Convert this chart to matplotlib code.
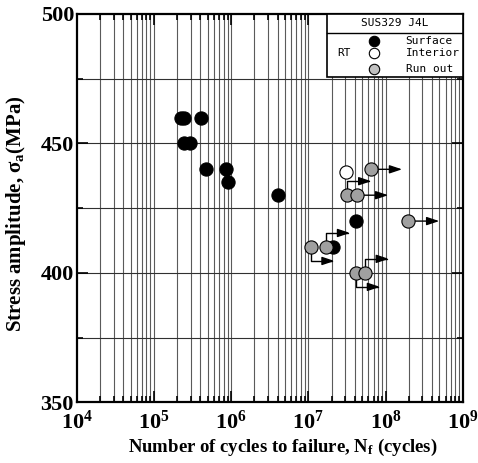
import numpy as np
import matplotlib
matplotlib.use("Agg")
from matplotlib import pyplot as plt
from matplotlib.transforms import offset_copy
from matplotlib.patches import Rectangle

plt.rcParams['font.family'] = 'Liberation Serif'
plt.rcParams['font.weight'] = 'bold'
plt.rcParams['axes.labelweight'] = 'bold'
plt.rcParams['mathtext.fontset'] = 'custom'
plt.rcParams['mathtext.rm'] = 'Liberation Serif:bold'
plt.rcParams['mathtext.bf'] = 'Liberation Serif:bold'
plt.rcParams['mathtext.it'] = 'Liberation Serif:bold'

# Surface failure (black)
surf_N = [2.27e5, 2.47e5, 4.04e5, 2.42e5, 2.95e5, 4.73e5, 8.6e5, 9.2e5, 4.08e6, 4.15e7, 2.1e7]
surf_S = [460, 460, 460, 450, 450, 440, 440, 435, 430, 420, 410]

# Interior failure (white)
int_N = [3.08e7]
int_S = [439]

# Run out (gray) and how the arrow is drawn: r = right, u = up then right, d = down then right
run_N = [6.5e7, 3.2e7, 4.3e7, 1.97e8, 1.07e7, 1.7e7, 4.15e7, 5.4e7]
run_S = [440, 430, 430, 420, 410, 410, 400, 400]
run_arrow = ['r', 'u', 'r', 'r', 'd', 'u', 'd', 'u']

fig = plt.figure(figsize=(4.78, 4.63), dpi=100)
ax = fig.add_axes([0.1605, 0.1311, 0.8075, 0.8387])

ax.set_xscale('log')
ax.set_xlim(1e4, 1e9)
ax.set_ylim(350, 500)

# grid on every decade and sub-decade, every 25 MPa
for d in range(4, 9):
    for m in range(1, 10):
        if d == 4 and m == 1:
            continue
        ax.axvline(m * 10.0**d, color='#5a5a5a', lw=0.8, zorder=1)
for s in np.arange(375, 500, 25):
    ax.axhline(s, color='#303030', lw=0.8, zorder=1)

ax.set_xticks([1e4, 1e5, 1e6, 1e7, 1e8, 1e9])
ax.set_xticklabels([r'$10^{%d}$' % k for k in range(4, 10)])
ax.set_yticks([350, 400, 450, 500])
ax.set_yticks([375, 425, 475], minor=True)
ax.tick_params(which='both', direction='in', top=True, right=True, width=1.2, labelsize=16, pad=2)
ax.tick_params(which='major', length=8)
ax.tick_params(which='minor', length=4)
ax.tick_params(axis='x', pad=6)
for sp in ax.spines.values():
    sp.set_linewidth(1.6)

ms = 9.5
ax.plot(surf_N, surf_S, 'o', ms=ms, mfc='black', mec='black', mew=0.8, ls='none', zorder=5)
ax.plot(int_N, int_S, 'o', ms=ms, mfc='white', mec='black', mew=0.8, ls='none', zorder=5)
ax.plot(run_N, run_S, 'o', ms=ms, mfc='#a0a0a0', mec='black', mew=0.8, ls='none', zorder=6)

# run-out arrows
for n, s, a in zip(run_N, run_S, run_arrow):
    if a == 'r':
        end = offset_copy(ax.transData, fig=fig, x=31, y=0, units='dots')
        conn = 'arc3'
    elif a == 'u':
        end = offset_copy(ax.transData, fig=fig, x=24, y=14, units='dots')
        conn = 'angle,angleA=90,angleB=0,rad=0'
    else:
        end = offset_copy(ax.transData, fig=fig, x=24, y=-14, units='dots')
        conn = 'angle,angleA=-90,angleB=0,rad=0'
    ax.annotate('', xy=(n, s), xycoords=end, xytext=(n, s), textcoords='data',
                arrowprops=dict(arrowstyle='-|>,head_length=0.75,head_width=0.25',
                                connectionstyle=conn, color='black', lw=1.0,
                                shrinkA=0, shrinkB=0),
                zorder=4)

# legend box
ax.add_patch(Rectangle((0.648, 0.838), 0.352, 0.162, transform=ax.transAxes,
                       facecolor='white', edgecolor='black', lw=1.2, zorder=8))
ax.plot([0.648, 1.0], [0.952, 0.952], color='black', lw=1.0, transform=ax.transAxes, zorder=9)
mono = dict(family='DejaVu Sans Mono', fontsize=8, weight='normal', transform=ax.transAxes, zorder=10)
ax.text(0.824, 0.976, 'SUS329 J4L', ha='center', va='center', **mono)
ax.text(0.692, 0.899, 'RT', ha='center', va='center', **mono)
leg_labels = ['Surface', 'Interior', 'Run out']
leg_fc = ['black', 'white', '#c0c0c0']
leg_y = [0.931, 0.899, 0.858]
for lab, fc, yy in zip(leg_labels, leg_fc, leg_y):
    ax.plot([0.771], [yy], 'o', ms=7.5, mfc=fc, mec='black', mew=0.8,
            transform=ax.transAxes, zorder=10, clip_on=False)
    ax.text(0.852, yy, lab, ha='left', va='center', **mono)

ax.set_xlabel(r'Number of cycles to failure, N$_\mathrm{f}$ (cycles)', fontsize=13.5)
ax.xaxis.set_label_coords(0.535, -0.088)
ax.set_ylabel(r'Stress amplitude, $\sigma_\mathrm{a}$(MPa)', fontsize=15)
ax.yaxis.set_label_coords(-0.125, 0.485)

fig.savefig('out.png', dpi=100)
